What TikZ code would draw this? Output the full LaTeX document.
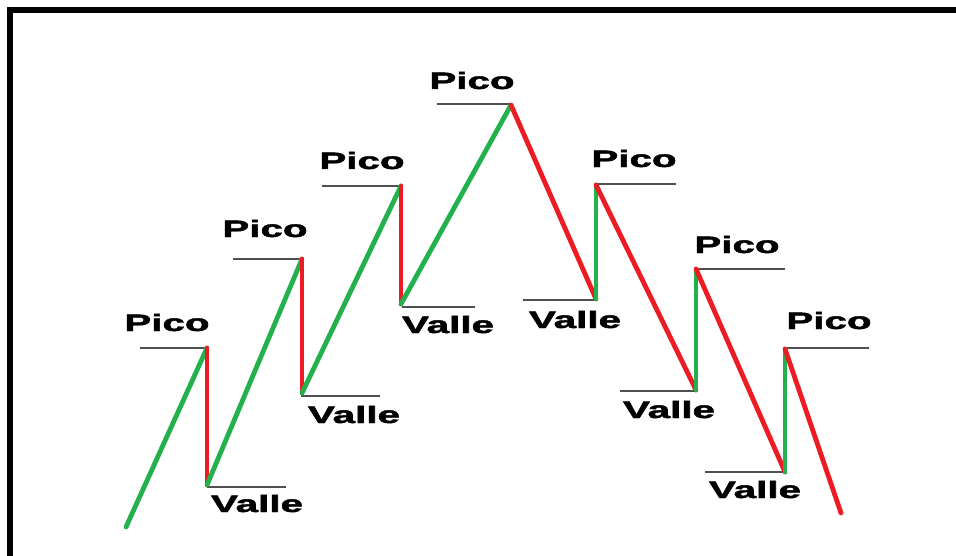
\documentclass[tikz,border=0pt]{standalone}
\usepackage{fontspec}
\usepackage{graphicx}
\setmainfont{Liberation Sans}
\newfontfamily\lblfont[FakeBold=1.6]{Liberation Sans Bold}
\definecolor{upgreen}{HTML}{22B14C}
\definecolor{downred}{HTML}{ED1C24}
\definecolor{levelgray}{HTML}{505050}
\newcommand\lbltext[1]{\scalebox{1.7}[1]{\lblfont #1}}
\tikzset{
  upleg/.style={draw=upgreen, line width=3.6pt, line cap=round, line join=round},
  downleg/.style={draw=downred, line width=3.6pt, line cap=round, line join=round},
  level/.style={draw=levelgray, line width=2.2pt},
  lbl/.style={anchor=base, inner sep=0pt, font=\fontsize{17.8}{20}\selectfont, text=black},
  frameline/.style={draw=black, line width=4.6pt}
}
\begin{document}
\begin{tikzpicture}[x=0.75pt, y=-0.75pt]
\useasboundingbox (0,0) rectangle (956,556);
% frame (cut at right and bottom)
\coordinate (fbl) at (10.3,570);
\coordinate (ftl) at (10.3,10);
\coordinate (ftr) at (970,10);
\draw[frameline] (fbl) -- (ftl) -- (ftr);
% turning points
\coordinate (S)  at (126,527);
\coordinate (P1) at (207,348);
\coordinate (V1) at (207,485);
\coordinate (P2) at (302,259);
\coordinate (V2) at (302,393);
\coordinate (P3) at (401,186);
\coordinate (V3) at (401,304);
\coordinate (P4) at (511,105);
\coordinate (V4) at (596,299);
\coordinate (P5) at (596,185);
\coordinate (V5) at (696,390);
\coordinate (P6) at (696,269);
\coordinate (V6) at (785,472);
\coordinate (P7) at (785,349);
\coordinate (E)  at (841,513);
% level lines
\coordinate (L1a) at (140,348); \coordinate (L1b) at (207,348);
\coordinate (L2a) at (207,487); \coordinate (L2b) at (286,487);
\coordinate (L3a) at (233,259); \coordinate (L3b) at (303,259);
\coordinate (L4a) at (301,396); \coordinate (L4b) at (380,396);
\coordinate (L5a) at (322,186); \coordinate (L5b) at (401,186);
\coordinate (L6a) at (402,307); \coordinate (L6b) at (475,307);
\coordinate (L7a) at (437,104); \coordinate (L7b) at (511,104);
\coordinate (L8a) at (523,300); \coordinate (L8b) at (597,300);
\coordinate (L9a) at (597,184); \coordinate (L9b) at (676,184);
\coordinate (L10a) at (620,391); \coordinate (L10b) at (697,391);
\coordinate (L11a) at (697,269); \coordinate (L11b) at (785,269);
\coordinate (L12a) at (705,472); \coordinate (L12b) at (785,472);
\coordinate (L13a) at (787,348); \coordinate (L13b) at (869,348);
\foreach \i in {1,...,13} {\draw[level] (L\i a) -- (L\i b);}
% legs
\draw[upleg] (S) -- (P1);
\draw[downleg] (P1) -- (V1);
\draw[upleg] (V1) -- (P2);
\draw[downleg] (P2) -- (V2);
\draw[upleg] (V2) -- (P3);
\draw[downleg] (P3) -- (V3);
\draw[upleg] (V3) -- (P4);
\draw[downleg] (P4) -- (V4);
\draw[upleg] (V4) -- (P5);
\draw[downleg] (P5) -- (V5);
\draw[upleg] (V5) -- (P6);
\draw[downleg] (P6) -- (V6);
\draw[upleg] (V6) -- (P7);
\draw[downleg] (P7) -- (E);
% labels
\node[lbl] (tp1) at (167,331) {\lbltext{Pico}};
\node[lbl] (tp2) at (265,237) {\lbltext{Pico}};
\node[lbl] (tp3) at (362,169) {\lbltext{Pico}};
\node[lbl] (tp4) at (472,89)  {\lbltext{Pico}};
\node[lbl] (tp5) at (634,167) {\lbltext{Pico}};
\node[lbl] (tp6) at (737,253) {\lbltext{Pico}};
\node[lbl] (tp7) at (829,329) {\lbltext{Pico}};
\node[lbl] (tv1) at (257,512) {\lbltext{Valle}};
\node[lbl] (tv2) at (354,423) {\lbltext{Valle}};
\node[lbl] (tv3) at (448,333) {\lbltext{Valle}};
\node[lbl] (tv4) at (575,328) {\lbltext{Valle}};
\node[lbl] (tv5) at (669,418) {\lbltext{Valle}};
\node[lbl] (tv6) at (755,498) {\lbltext{Valle}};
\end{tikzpicture}
\end{document}
